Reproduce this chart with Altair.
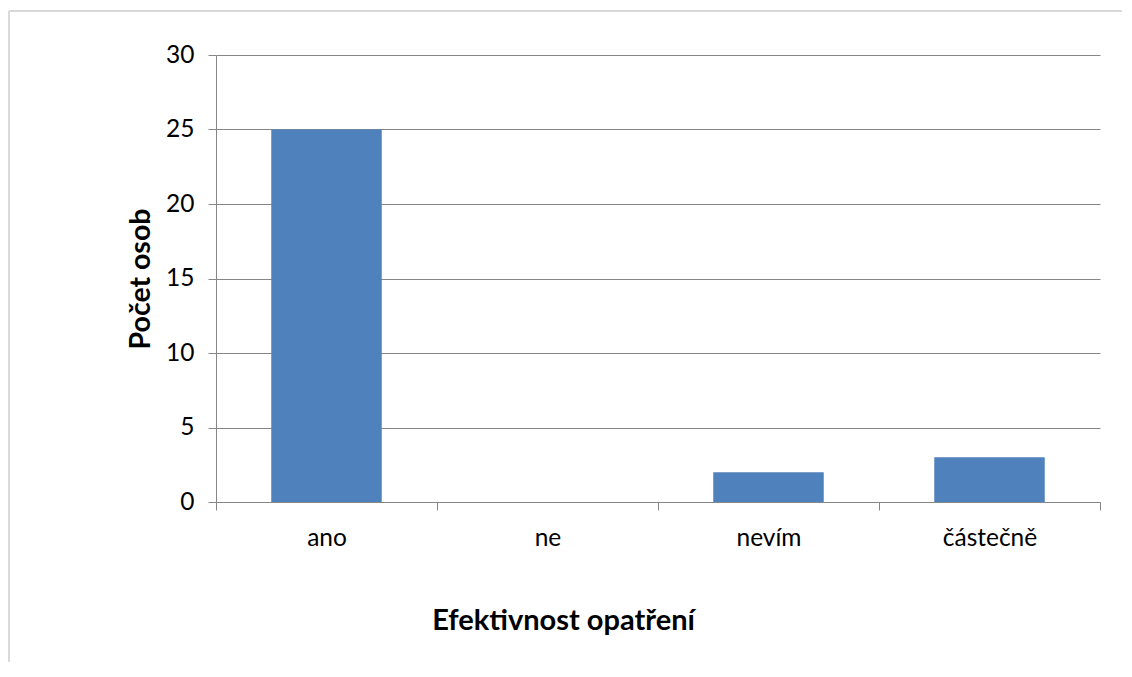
import altair as alt
import pandas as pd

categories = ["ano", "ne", "nevím", "částečně"]
counts = [25, 0, 2, 3]
y_ticks = [0, 5, 10, 15, 20, 25, 30]

df = pd.DataFrame({"kategorie": categories, "pocet": counts})

FONT = "Lato"
GRID = "#868686"

bars = alt.Chart(df).mark_bar(color="#4F81BD", width={"band": 0.5}).encode(
    x=alt.X(
        "kategorie:N",
        sort=categories,
        scale=alt.Scale(paddingInner=0, paddingOuter=0),
        axis=alt.Axis(
            title="Efektivnost opatření",
            labelAngle=0,
            tickBand="extent",
            ticks=True,
            tickSize=8,
            tickColor=GRID,
            domainColor=GRID,
            grid=False,
            labelFont=FONT,
            labelFontSize=24.5,
            labelColor="#000000",
            labelBaseline="alphabetic",
            labelPadding=35,
            titleFont=FONT,
            titleFontSize=29,
            titleFontWeight="bold",
            titleColor="#000000",
            titleAlign="center",
            titleBaseline="alphabetic",
            titleX=347,
            titleY=127,
        ),
    ),
    y=alt.Y(
        "pocet:Q",
        scale=alt.Scale(domain=[0, 30], nice=False),
        axis=alt.Axis(
            title="Počet osob",
            values=y_ticks,
            tickSize=8,
            tickColor=GRID,
            domainColor=GRID,
            gridColor=GRID,
            grid=True,
            labelFont=FONT,
            labelFontSize=24.5,
            labelColor="#000000",
            labelPadding=14,
            titleFont=FONT,
            titleFontSize=28.5,
            titleFontWeight="bold",
            titleColor="#000000",
            titleBaseline="middle",
            titleX=-76,
        ),
    ),
)

border_left = alt.Chart(df).mark_rule(color="#d9d9d9", strokeWidth=2).encode(
    x=alt.value(-207), y=alt.value(-44), y2=alt.value(700)
)
border_top = alt.Chart(df).mark_rule(color="#d9d9d9", strokeWidth=2).encode(
    x=alt.value(-207), x2=alt.value(1000), y=alt.value(-44)
)

chart = alt.layer(border_left, border_top, bars).properties(
    width=884,
    height=447,
    autosize=alt.AutoSizeParams(type="none"),
    padding={"left": 208, "top": 47, "right": 22, "bottom": 160},
    background="#ffffff",
).configure_view(stroke=None)

chart.save("out.html", embed_options={"renderer": "svg", "actions": False})
